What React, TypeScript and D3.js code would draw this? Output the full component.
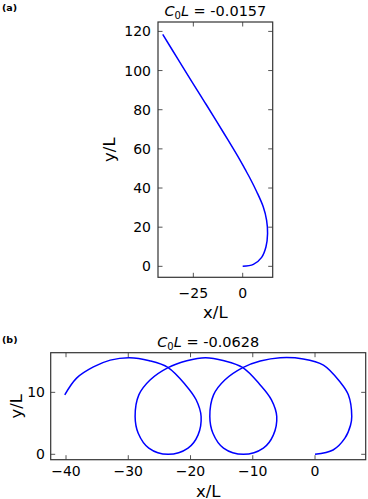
import React from 'react';
import * as d3 from 'd3';

// panel (a): C0L = -0.0157
const aX = [0, 5.4, 9.6, 11.8, 12.6, 12.1, 10.4, 7.1, 3.7, 1.2, -1.5, -7.3, -13.2, -19.2, -25.3, -32.8, -40.5];
const aY = [0, 1.0, 4.6, 10, 16.8, 23.6, 30.4, 38.1, 45, 49.6, 54.5, 64.3, 74, 83.8, 93.6, 105.8, 118.5];
const aXTicks = [-25, 0];
const aYTicks = [0, 20, 40, 60, 80, 100, 120];

// panel (b): C0L = -0.0628
const bX = [0, 2.9, 4.8, 5.7, 5.9, 5.35, 4.0, 1.35, -1.9, -5.6, -8.8, -11.6, -14.5, -16.3, -16.9, -16.4, -14.7, -11.5,
  -8.3, -6.7, -6.15, -7.0, -8.8, -11.6, -14.6, -17.6, -20.6, -23.6, -26.5, -28.3, -28.9, -28.4, -26.7, -23.6,
  -20.4, -18.8, -18.3, -19.1, -20.8, -23.6, -26.6, -29.8, -32.9, -35.6, -38.3, -40.2];
const bY = [0, 0.7, 2.6, 4.7, 6.1, 9.6, 11.7, 14.4, 15.4, 15.6, 15.05, 14.0, 12.0, 9.6, 6.1, 3.4, 1.0, 0,
  1.0, 3.1, 6.1, 8.8, 11.2, 14.0, 15.1, 15.6, 15.1, 14.0, 12.0, 9.6, 6.1, 3.4, 1.0, 0,
  1.0, 3.1, 6.1, 8.8, 11.2, 14.0, 15.1, 15.6, 15.2, 14.1, 12.3, 9.6];
const bXTicks = [-40, -30, -20, -10, 0];
const bYTicks = [0, 10];

const FONT = 'DejaVu Sans, sans-serif';
const fmt = (v: number) => (v < 0 ? '\u2212' + Math.abs(v) : String(v));

interface PanelProps {
  xs: number[];
  ys: number[];
  xTicks: number[];
  yTicks: number[];
  xDomain: [number, number];
  yDomain: [number, number];
  left: number;
  right: number;
  top: number;
  bottom: number;
  title: string;
  tag: string;
  tagY: number;
  titleY: number;
  xTickY: number;
  xLabelY: number;
  yTickX: number;
  yLabelX: number;
}

const Panel: React.FC<PanelProps> = (p) => {
  const x = d3.scaleLinear().domain(p.xDomain).range([p.left, p.right]);
  const y = d3.scaleLinear().domain(p.yDomain).range([p.bottom, p.top]);
  const pts = p.xs.map((v, i) => [v, p.ys[i]] as [number, number]);
  const line = d3.line<[number, number]>()
    .x(d => x(d[0]))
    .y(d => y(d[1]))
    .curve(d3.curveCatmullRom.alpha(0.5));
  const tl = 4.5;
  const cx = (p.left + p.right) / 2;
  const cy = (p.top + p.bottom) / 2;

  return (
    <g>
      <text x={2} y={p.tagY} fontFamily={FONT} fontWeight="bold" fontSize={9.5}>{p.tag}</text>
      <text x={cx} y={p.titleY} textAnchor="middle" fontFamily={FONT} fontSize={14.5}>
        <tspan fontStyle="italic">C</tspan>
        <tspan fontSize={10} dy={3}>0</tspan>
        <tspan fontStyle="italic" dy={-3}>L</tspan>
        <tspan>{' = ' + p.title}</tspan>
      </text>
      <path d={line(pts) ?? ''} fill="none" stroke="#0000ff" strokeWidth={1.5} />
      {p.xTicks.map(t => (
        <g key={'x' + t}>
          <line x1={x(t)} x2={x(t)} y1={p.bottom} y2={p.bottom - tl} stroke="#555" />
          <line x1={x(t)} x2={x(t)} y1={p.top} y2={p.top + tl} stroke="#555" />
          <text x={x(t)} y={p.xTickY} textAnchor="middle" fontFamily={FONT} fontSize={14}>{fmt(t)}</text>
        </g>
      ))}
      {p.yTicks.map(t => (
        <g key={'y' + t}>
          <line x1={p.left} x2={p.left + tl} y1={y(t)} y2={y(t)} stroke="#555" />
          <line x1={p.right} x2={p.right - tl} y1={y(t)} y2={y(t)} stroke="#555" />
          <text x={p.yTickX} y={y(t)} dy="0.36em" textAnchor="end" fontFamily={FONT} fontSize={14}>{fmt(t)}</text>
        </g>
      ))}
      <rect x={p.left} y={p.top} width={p.right - p.left} height={p.bottom - p.top} fill="none" stroke="#333" strokeWidth={1.2} />
      <text x={cx} y={p.xLabelY} textAnchor="middle" fontFamily={FONT} fontSize={16.5}>x/L</text>
      <text transform={`translate(${p.yLabelX},${cy}) rotate(-90)`} textAnchor="middle" fontFamily={FONT} fontSize={16.5}>y/L</text>
    </g>
  );
};

export default function App() {
  return (
    <svg width={368} height={499} style={{ position: 'absolute', left: 0, top: 0, background: '#fff' }}>
      <Panel xs={aX} ys={aY} xTicks={aXTicks} yTicks={aYTicks}
        xDomain={[-42.9, 15.2]} yDomain={[-5.6, 124.8]}
        left={158} right={272.7} top={22} bottom={277.3}
        title="-0.0157" tag="(a)" tagY={11} titleY={16}
        xTickY={297.5} xLabelY={318} yTickX={151} yLabelX={115} />
      <Panel xs={bX} ys={bY} xTicks={bXTicks} yTicks={bYTicks}
        xDomain={[-42.46, 8.14]} yDomain={[-0.87, 16.4]}
        left={50.7} right={365.7} top={352.7} bottom={459.7}
        title="-0.0628" tag="(b)" tagY={343} titleY={347}
        xTickY={475.7} xLabelY={496.5} yTickX={45} yLabelX={22} />
    </svg>
  );
}
